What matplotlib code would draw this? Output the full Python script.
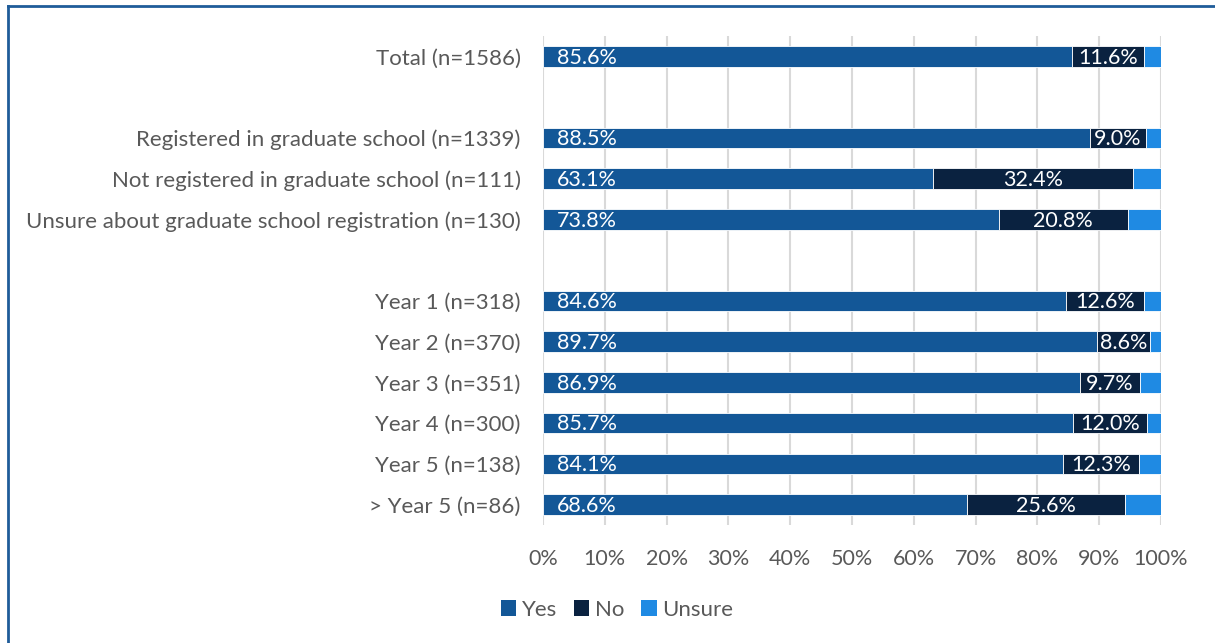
import matplotlib
matplotlib.use("Agg")
import matplotlib.pyplot as plt
from matplotlib.lines import Line2D
from matplotlib.patches import Patch
from matplotlib.ticker import PercentFormatter

plt.rcParams['font.family'] = ['Lato', 'DejaVu Sans']

groups = [
    ["Total (n=1586)"],
    ["Registered in graduate school (n=1339)",
     "Not registered in graduate school (n=111)",
     "Unsure about graduate school registration (n=130)"],
    ["Year 1 (n=318)", "Year 2 (n=370)", "Year 3 (n=351)",
     "Year 4 (n=300)", "Year 5 (n=138)", "> Year 5 (n=86)"],
]
yes = [85.6, 88.5, 63.1, 73.8, 84.6, 89.7, 86.9, 85.7, 84.1, 68.6]
no = [11.6, 9.0, 32.4, 20.8, 12.6, 8.6, 9.7, 12.0, 12.3, 25.6]
unsure = [2.8, 2.5, 4.5, 5.4, 2.8, 1.7, 3.4, 2.3, 3.6, 5.8]
series_names = ["Yes", "No", "Unsure"]
colors = ["#135797", "#0A2240", "#1F8AE3"]
xticks = [0, 10, 20, 30, 40, 50, 60, 70, 80, 90, 100]

labels = []
pos = []
p = 0
for g in groups:
    for lab in g:
        labels.append(lab)
        pos.append(p)
        p += 1
    p += 1
nrows = p - 1

W, H = 1215, 643
fig = plt.figure(figsize=(W / 100, H / 100), dpi=100)
ax = fig.add_axes([543 / W, 1 - 525 / H, (1161 - 543) / W, (525 - 36) / H])

gray = "#595959"
bh = 0.5
left = [0] * len(yes)
for vals, c in zip([yes, no, unsure], colors):
    ax.barh(pos, vals, left=left, height=bh, color=c, edgecolor="white",
            linewidth=0.6, zorder=3)
    left = [l + v for l, v in zip(left, vals)]

fs = 16
dfs = 15.5
for y, v in zip(pos, yes):
    ax.text(2.3, y + 0.03, f"{v:.1f}%", color="white", va="center", ha="left",
            fontsize=dfs, zorder=4)
for y, a, v in zip(pos, yes, no):
    ax.text(a + v / 2, y + 0.03, f"{v:.1f}%", color="white", va="center",
            ha="center", fontsize=dfs, zorder=4)

ax.set_xlim(0, 100)
ax.set_ylim(nrows - 0.5, -0.5)
ax.set_xticks(xticks)
ax.xaxis.set_major_formatter(PercentFormatter(decimals=0))
ax.set_yticks(pos)
ax.set_yticklabels(labels)
ax.tick_params(axis='both', length=0, labelsize=fs, labelcolor=gray)
ax.tick_params(axis='x', labelsize=15.5, pad=17)
ax.tick_params(axis='y', pad=16)
ax.grid(axis='x', color="#D9D9D9", linewidth=1.5, zorder=0)
for s in ax.spines.values():
    s.set_visible(False)

handles = [Patch(facecolor=c, edgecolor='none') for c in colors]
fig.legend(handles, series_names, loc='center',
           bbox_to_anchor=(617 / W, 1 - 610 / H), ncol=3, frameon=False,
           fontsize=fs, labelcolor=gray, handlelength=0.7, handleheight=0.7,
           handletextpad=0.25, columnspacing=0.75)

# figure border (top and left visible)
fig.add_artist(Line2D([8 / W, 1], [1 - 6 / H, 1 - 6 / H], color="#1F5C99",
                      linewidth=2, transform=fig.transFigure))
fig.add_artist(Line2D([8 / W, 8 / W], [0, 1 - 6 / H], color="#1F5C99",
                      linewidth=2, transform=fig.transFigure))

fig.savefig("out.png", dpi=100)
